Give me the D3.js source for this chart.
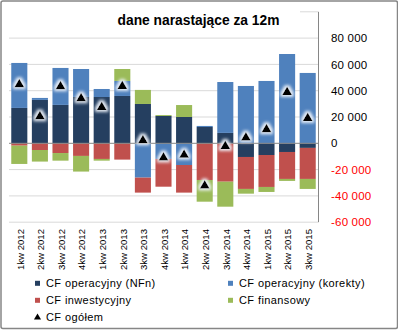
<!DOCTYPE html>
<html><head><meta charset="utf-8">
<script src="https://cdn.jsdelivr.net/npm/d3@7"></script>
<style>body{margin:0;background:#fff}svg{display:block;font-family:"Liberation Sans",Arial,sans-serif}</style>
</head><body><svg id="c" width="398" height="330"></svg>
<script>
const categories = ["1kw 2012","2kw 2012","3kw 2012","4kw 2012","1kw 2013","2kw 2013","3kw 2013","4kw 2013","1kw 2014","2kw 2014","3kw 2014","4kw 2014","1kw 2015","2kw 2015","3kw 2015"];
const cfNFn      = [26900, 33000, 29200, 35200, 35200, 36000, 29900, 20800, 20000, 12400, 7900, -10400, -8900, -6600, -3500];
const cfKorekty  = [34200, 1500, 28100, 21300, 6100, 11400, -26100, -11900, -16500, 800, 38700, 43600, 47400, 67900, 53500];
const cfInwest   = [-1800, -5100, -7400, -9600, -11900, -12400, -11400, -21100, -21000, -27900, -29200, -24300, -24300, -20500, -23600];
const cfFinans   = [-13900, -8800, -5800, -11900, -1300, 9100, 10700, 700, 9100, -16500, -19000, -3600, -3800, -1500, -7600];
const cfOgolem   = [45100, 20800, 43600, 34500, 27900, 43900, 2500, -10600, -8400, -31900, -1800, 4600, 10900, 39300, 19500];
const yTicks = [-60000, -40000, -20000, 0, 20000, 40000, 60000, 80000];
const seriesNames = ["CF operacyjny (NFn)", "CF operacyjny (korekty)", "CF inwestycyjny", "CF finansowy", "CF ogółem"];
const colors = ["#253f60", "#4f81bd", "#c0504d", "#9bbb59", "#000000"];

const svg = d3.select("#c");
const defs = svg.append("defs");
const f = defs.append("filter").attr("id","glow").attr("x","-100%").attr("y","-100%").attr("width","300%").attr("height","300%");
f.append("feMorphology").attr("in","SourceAlpha").attr("operator","dilate").attr("radius",1.5).attr("result","d");
f.append("feGaussianBlur").attr("in","d").attr("stdDeviation",1.8).attr("result","b");
f.append("feFlood").attr("flood-color","#eef3fa").attr("flood-opacity",0.95);
f.append("feComposite").attr("in2","b").attr("operator","in").attr("result","g");
const m = f.append("feMerge"); m.append("feMergeNode").attr("in","g"); m.append("feMergeNode").attr("in","SourceGraphic");

const x = d3.scaleBand().domain(categories).range([9, 318]).paddingInner(0.22).paddingOuter(0.11);
const y = d3.scaleLinear().domain([-60000, 100000]).range([222.2, 11.8]);

const loc = d3.formatLocale({thousands:" ", grouping:[3], decimal:",", currency:["",""], minus:"-"});
const fmt = loc.format(",.0f");

// gridlines
svg.append("g").selectAll("line").data(yTicks.concat([100000]).filter(v=>v!==0)).join("line")
  .attr("x1", 9).attr("x2", 318).attr("y1", d=>y(d)).attr("y2", d=>y(d))
  .attr("stroke", "#d9d9d9").attr("stroke-width", 1);

// stacked bars
const keys = ["nfn","kor","inw","fin"];
const rows = categories.map((c,i)=>({cat:c, nfn:cfNFn[i], kor:cfKorekty[i], inw:cfInwest[i], fin:cfFinans[i]}));
const stacked = d3.stack().keys(keys).offset(d3.stackOffsetDiverging)(rows);
svg.append("g").selectAll("g").data(stacked).join("g").attr("fill",(d,i)=>colors[i])
  .selectAll("rect").data(d=>d).join("rect")
  .attr("x", d=>x(d.data.cat)).attr("width", x.bandwidth())
  .attr("y", d=>y(Math.max(d[0],d[1]))).attr("height", d=>Math.abs(y(d[0])-y(d[1])));

// zero line & right axis line
svg.append("line").attr("x1",9).attr("x2",318).attr("y1",y(0)).attr("y2",y(0)).attr("stroke","#868686").attr("stroke-width",1);
svg.append("line").attr("x1",318.5).attr("x2",318.5).attr("y1",y(100000)).attr("y2",y(-60000)).attr("stroke","#868686").attr("stroke-width",1);

// triangles
svg.append("g").selectAll("path").data(cfOgolem).join("path")
  .attr("d", d3.symbol(d3.symbolTriangle, 42)())
  .attr("transform",(d,i)=>`translate(${x(categories[i])+x.bandwidth()/2},${y(d)+0.5})`)
  .attr("fill","#000").attr("filter","url(#glow)");

// y-axis labels
svg.append("g").selectAll("text").data(yTicks).join("text")
  .attr("x", 331).attr("y", d=>y(d)).attr("dy","0.36em")
  .attr("font-size","11.5px").attr("letter-spacing","0.2px")
  .attr("fill", d=>d<0?"#ff0000":"#000").text(d=>fmt(d));

// x labels
svg.append("g").selectAll("text").data(categories).join("text")
  .attr("transform", d=>`translate(${x(d)+x.bandwidth()/2+1},229) rotate(-90)`)
  .attr("text-anchor","end").attr("dy","0.35em").attr("font-size","9.6px").attr("fill","#000").text(d=>d);

// title
svg.append("rect").attr("x",9).attr("y",4).attr("width",291).attr("height",26).attr("fill","#fff");
svg.append("text").attr("x",198.5).attr("y",25).attr("text-anchor","middle")
  .attr("font-weight","bold").attr("font-size","13.8px").attr("fill","#000").text("dane narastające za 12m");

// legend
const leg = [
  {i:0, lx:35, ly:283.3},{i:1, lx:228, ly:283.3},
  {i:2, lx:35, ly:300.3},{i:3, lx:228, ly:300.3},
  {i:4, lx:35, ly:317.5}];
const lg = svg.append("g");
leg.forEach(l=>{
  if (l.i<4) lg.append("rect").attr("x",l.lx).attr("y",l.ly-2.5).attr("width",5).attr("height",5).attr("fill",colors[l.i]);
  else lg.append("path").attr("d", d3.symbol(d3.symbolTriangle, 22)()).attr("transform",`translate(${l.lx+2.5},${l.ly})`).attr("fill","#000");
  lg.append("text").attr("x", l.lx+11).attr("y", l.ly).attr("dy","0.36em")
    .attr("font-size","11px").attr("letter-spacing","0.4px").attr("fill","#000").text(seriesNames[l.i]);
});

// border
svg.append("rect").attr("x",1).attr("y",1).attr("width",396.5).attr("height",327.5).attr("rx",2)
  .attr("fill","none").attr("stroke","#868686").attr("stroke-width",1.5);
</script></body></html>
